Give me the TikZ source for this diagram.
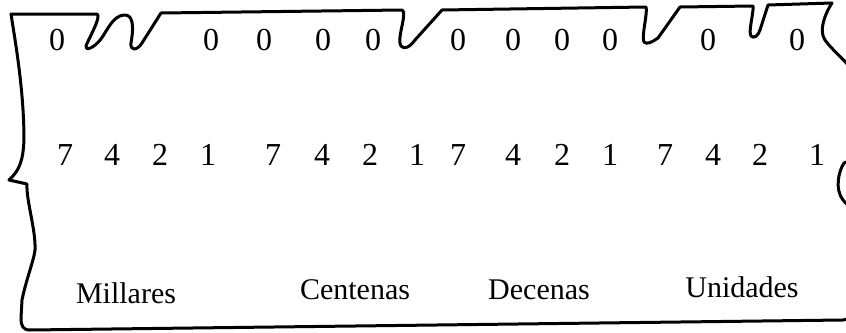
\documentclass[tikz,border=0pt]{standalone}
\usepackage{fontspec}
\setmainfont{Liberation Serif}
\begin{document}
\begin{tikzpicture}[x=1pt,y=-1pt,
  edge/.style={line width=3pt,line cap=round,line join=round},
  dig/.style={inner sep=0pt,font=\fontsize{32}{36}\selectfont},
  lab/.style={inner sep=0pt,font=\fontsize{30}{34}\selectfont}]
\useasboundingbox (0,0) rectangle (846,332);
\clip (0,0) rectangle (846,332);
% card outline
\draw[edge] (11,14) -- (97,14)
  .. controls (102,16) and (88,40) .. (86,46)
  .. controls (85,51) and (93,49) .. (101,39)
  .. controls (108,29) and (113,16) .. (124,15)
  .. controls (135,14) and (133,32) .. (131,43)
  .. controls (130,51) and (137,51) .. (142,43)
  -- (161,13) -- (402,10)
  .. controls (408,12) and (396,40) .. (401,46)
  .. controls (404,50) and (410,47) .. (415,40)
  -- (442,10) -- (646,7)
  .. controls (648,12) and (641,38) .. (644,42)
  .. controls (647,45) and (652,42) .. (658,38)
  -- (680,7) -- (753,6)
  .. controls (754,12) and (748,32) .. (751,36)
  .. controls (754,39) and (758,36) .. (760,30)
  -- (768,5) -- (832,3)
  .. controls (826,12) and (818,30) .. (825,40)
  .. controls (832,50) and (845,60) .. (852,70)
  -- (852,160) -- (844,163)
  .. controls (838,172) and (835,190) .. (843,200)
  -- (852,210) -- (852,318) -- (843,320)
  -- (30,330)
  .. controls (23,330) and (21,326) .. (21,318)
  -- (22,300)
  .. controls (26,280) and (34,260) .. (35,250)
  .. controls (36,230) and (26,200) .. (27,184)
  -- (9,180)
  .. controls (20,170) and (23,160) .. (24,140)
  .. controls (24,90) and (15,40) .. (11,14) -- cycle;
% top row
\foreach \x/\n in {57/a,211/b,264/c,323/d,373/e,458/f,513/g,562/h,610/i,708/j,797/k}
  \node[dig] (z\n) at (\x,40) {0};
% middle row
\foreach \x/\d/\n in {65/7/a,112/4/b,160/2/c,208/1/d,273/7/e,322/4/f,370/2/g,417/1/h,458/7/i,513/4/j,562/2/k,610/1/l,665/7/m,713/4/n,760/2/o,817/1/p}
  \node[dig] (m\n) at (\x,155) {\d};
% labels
\node[lab] (mil) at (126,293) {Millares};
\node[lab] (cen) at (355,290) {Centenas};
\node[lab] (dec) at (539,290) {Decenas};
\node[lab] (uni) at (742,287) {Unidades};
\end{tikzpicture}
\end{document}
